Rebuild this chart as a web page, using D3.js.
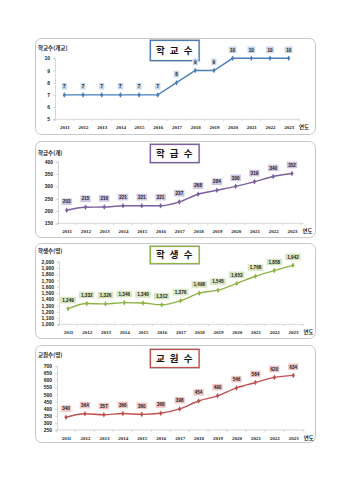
<!DOCTYPE html>
<html><head><meta charset="utf-8">
<script src="https://cdn.jsdelivr.net/npm/d3@7"></script>
<style>
html,body{margin:0;padding:0;background:#fff;}
svg{display:block;}
</style></head>
<body>
<svg id="c" width="350" height="480"></svg>
<script>
const years = ['2011','2012','2013','2014','2015','2016','2017','2018','2019','2020','2021','2022','2023'];
const schools = [7,7,7,7,7,7,8,9,9,10,10,10,10];
const classes = [203,215,216,221,221,221,237,268,284,300,319,340,352];
const students = [1249,1332,1326,1346,1340,1312,1376,1498,1545,1653,1768,1858,1942];
const teachers = [340,364,357,366,360,368,398,454,490,546,584,620,634];

const schoolTicks = [5,6,7,8,9,10];
const classTicks = [150,200,250,300,350,400];
const studentTicks = [1000,1100,1200,1300,1400,1500,1600,1700,1800,1900,2000];
const teacherTicks = [250,300,350,400,450,500,550,600,650,700];

const titles = ['학 교 수','학 급 수','학 생 수','교 원 수'];
const yLabels = ['학교수(개교)','학급수(개)','학생수(명)','교원수(명)'];
const xUnit = '연도';

const svg = d3.select('#c');
const KR = "'Noto Sans CJK KR','Noto Sans',sans-serif";

const panels = [
  {data:schools, ticks:schoolTicks, color:'#4a7ebb', light:'#c6d6ec', title:titles[0], ylab:yLabels[0], curve:d3.curveLinear,
   top:38, bottom:134, yTop:58.3, yBot:119.3, x0:64.3, x1:288.7, ax:55, tb:[40,60], ylY:50},
  {data:classes, ticks:classTicks, color:'#7b5fa0', light:'#cfc3df', title:titles[1], ylab:yLabels[1], curve:d3.curveMonotoneX,
   top:141, bottom:237, yTop:161.7, yBot:223.3, x0:66.7, x1:292, ax:58, tb:[144,162], ylY:155},
  {data:students, ticks:studentTicks, color:'#8fb446', light:'#d8e6bf', title:titles[2], ylab:yLabels[2], curve:d3.curveMonotoneX,
   top:243, bottom:338, yTop:261.7, yBot:324.3, x0:68, x1:293, ax:59, tb:[246,263], ylY:253},
  {data:teachers, ticks:teacherTicks, color:'#c0504d', light:'#f1c5c4', title:titles[3], ylab:yLabels[3], curve:d3.curveMonotoneX,
   top:345, bottom:442, yTop:366, yBot:430, x0:66, x1:293.3, ax:57, tb:[349,367], ylY:356.5}
];

const fmt = d3.format(',');

panels.forEach(p => {
  const g = svg.append('g');
  g.append('rect').attr('x',35.5).attr('y',p.top+0.5).attr('width',280).attr('height',p.bottom-p.top)
    .attr('rx',6).attr('fill','#fff').attr('stroke','#c8c8c8').attr('stroke-width',1);

  const x = d3.scalePoint().domain(years).range([p.x0,p.x1]);
  const step = x.step();
  const y = d3.scaleLinear().domain([p.ticks[0], p.ticks[p.ticks.length-1]]).range([p.yBot,p.yTop]);

  const ya = g.append('g').attr('transform',`translate(${p.ax},0)`)
    .call(d3.axisLeft(y).tickValues(p.ticks).tickSize(2).tickPadding(3).tickFormat(fmt));
  ya.select('.domain').attr('stroke','#bdbdbd').attr('stroke-width',0.6);
  ya.selectAll('.tick line').attr('stroke','#bdbdbd').attr('stroke-width',0.6);
  ya.selectAll('text').attr('font-size',5).attr('font-weight','bold').attr('fill','#222')
    .attr('font-family',"'Liberation Sans',Arial,sans-serif");

  const xa = g.append('g').attr('transform',`translate(0,${p.yBot})`)
    .call(d3.axisBottom(x).tickSize(0).tickPadding(6.5));
  xa.select('.domain').remove();
  g.append('line').attr('x1',p.ax).attr('x2',p.x1+step*0.5+2).attr('y1',p.yBot).attr('y2',p.yBot)
    .attr('stroke','#bdbdbd').attr('stroke-width',0.6);
  g.selectAll('.bt').data(years.concat(['end'])).join('line')
    .attr('x1',(d,i)=>p.x0 - step/2 + i*step).attr('x2',(d,i)=>p.x0 - step/2 + i*step)
    .attr('y1',p.yBot).attr('y2',p.yBot+2).attr('stroke','#bdbdbd').attr('stroke-width',0.6);
  xa.selectAll('text').attr('font-size',5).attr('font-weight','bold').attr('fill','#222')
    .attr('font-family',"'Liberation Serif','Times New Roman',serif");
  g.append('text').attr('x',p.x1+step*0.5+1).attr('y',p.yBot+10).text(xUnit)
    .attr('font-size',5.5).attr('font-family',KR).attr('fill','#222').attr('font-weight','bold');

  g.append('text').attr('x',38).attr('y',p.ylY).text(p.ylab)
    .attr('font-size',5.5).attr('font-family',KR).attr('fill','#222').attr('font-weight','bold');

  // title box
  g.append('rect').attr('x',150.5).attr('y',p.tb[0]+0.5).attr('width',48.5).attr('height',p.tb[1]-p.tb[0])
    .attr('fill','#fff').attr('stroke','#a8a8a8').attr('stroke-width',2.2);
  g.append('rect').attr('x',150.5).attr('y',p.tb[0]+0.5).attr('width',48.5).attr('height',p.tb[1]-p.tb[0])
    .attr('fill','#fff').attr('stroke',p.color).attr('stroke-width',1.2);
  g.append('text').attr('x',175).attr('y',(p.tb[0]+p.tb[1])/2+3.5).attr('text-anchor','middle')
    .style('white-space','pre')
    .text(p.title).attr('font-size',9.5).attr('font-weight','bold').attr('font-family',KR)
    .attr('fill','#111').attr('letter-spacing',1.5);

  const line = d3.line().x((d,i)=>x(years[i])).y(d=>y(d)).curve(p.curve);
  g.append('path').datum(p.data).attr('d',line).attr('fill','none')
    .attr('stroke',p.color).attr('stroke-width',1.4);
  g.selectAll('.pt').data(p.data).join('path')
    .attr('transform',(d,i)=>`translate(${x(years[i])},${y(d)})`)
    .attr('d',d3.symbol(d3.symbolDiamond,9)).attr('fill',p.color);

  const lab = g.selectAll('.lb').data(p.data).join('g')
    .attr('transform',(d,i)=>`translate(${x(years[i])},${y(d)-8.5})`);
  lab.append('rect').attr('x',d=>{const w=fmt(d).length*2.6+3;return -w/2;})
    .attr('width',d=>fmt(d).length*2.6+3).attr('y',-3.6).attr('height',7)
    .attr('fill',p.light).attr('stroke','#fff').attr('stroke-width',0.4);
  lab.append('text').text(d=>fmt(d)).attr('text-anchor','middle').attr('dy','1.7')
    .attr('font-size',4.6).attr('font-weight','bold').attr('fill','#222')
    .attr('font-family',"'Liberation Sans',Arial,sans-serif");
});
</script>
</body></html>
